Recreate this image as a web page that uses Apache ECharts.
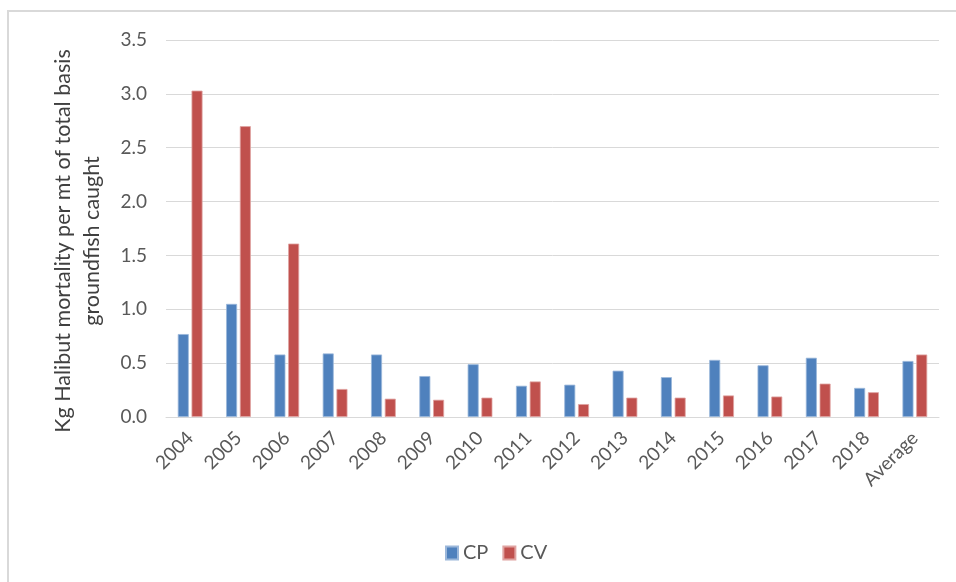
<!DOCTYPE html>
<html>
<head>
<meta charset="utf-8">
<script src="https://cdn.jsdelivr.net/npm/echarts@6/dist/echarts.min.js"></script>
<style>
  html, body { margin: 0; padding: 0; background: #fff; }
  #chart { width: 956px; height: 582px; }
</style>
</head>
<body>
<div id="chart"></div>
<script>
const categories = ['2004', '2005', '2006', '2007', '2008', '2009', '2010', '2011',
  '2012', '2013', '2014', '2015', '2016', '2017', '2018', 'Average']
const cpValues = [0.77, 1.05, 0.58, 0.59, 0.58, 0.38, 0.49, 0.29,
  0.30, 0.43, 0.37, 0.53, 0.48, 0.55, 0.27, 0.52]
const cvValues = [3.03, 2.70, 1.61, 0.26, 0.17, 0.16, 0.18, 0.33,
  0.12, 0.18, 0.18, 0.20, 0.19, 0.31, 0.23, 0.58]
const yTitle = ['Kg Halibut mortality per mt of total basis', 'groundfish caught']

const font = 'Lato, "Open Sans", sans-serif'
const textColor = '#595959'

const chart = echarts.init(document.getElementById('chart'))

const option = {
  backgroundColor: '#fff',
  animation: false,
  textStyle: { fontFamily: font },
  grid: { left: 166, right: 17, top: 40, bottom: 165 },
  legend: {
    data: ['CP', 'CV'],
    left: 440,
    top: 538,
    itemWidth: 12,
    itemHeight: 13,
    itemGap: 14,
    icon: 'rect',
    textStyle: { color: textColor, fontSize: 20, fontFamily: font },
  },
  xAxis: {
    type: 'category',
    data: categories,
    axisLine: { lineStyle: { color: '#d9d9d9', width: 1 } },
    axisTick: { show: false },
    axisLabel: {
      rotate: 45,
      interval: 0,
      margin: 18,
      color: textColor,
      fontSize: 19,
      fontFamily: font,
    },
  },
  yAxis: {
    type: 'value',
    min: 0,
    max: 3.5,
    interval: 0.5,
    axisLine: { show: false },
    axisTick: { show: false },
    axisLabel: {
      margin: 19,
      color: textColor,
      fontSize: 19,
      fontFamily: font,
      formatter: (v) => v.toFixed(1),
    },
    splitLine: { lineStyle: { color: '#d9d9d9', width: 1 } },
  },
  series: [
    {
      name: 'CP',
      type: 'bar',
      data: cpValues,
      barWidth: 11,
      barGap: '25%',
      itemStyle: { color: '#4f81bd', borderColor: '#9bb7da', borderWidth: 0.8 },
    },
    {
      name: 'CV',
      type: 'bar',
      data: cvValues,
      barWidth: 11,
      barGap: '25%',
      itemStyle: { color: '#c0504d', borderColor: '#e0a3a1', borderWidth: 0.8 },
    },
  ],
  graphic: [
    {
      type: 'rect',
      shape: { x: 8, y: 11, width: 1000, height: 700 },
      style: { fill: 'none', stroke: '#d9d9d9', lineWidth: 2 },
      silent: true,
      z: -1,
    },
    {
      type: 'text',
      x: 63,
      y: 241,
      rotation: Math.PI / 2,
      style: {
        text: yTitle[0],
        fill: '#404040',
        font: '21.5px ' + font,
        textAlign: 'center',
        textVerticalAlign: 'middle',
      },
    },
    {
      type: 'text',
      x: 92,
      y: 241,
      rotation: Math.PI / 2,
      style: {
        text: yTitle[1],
        fill: '#404040',
        font: '21.5px ' + font,
        textAlign: 'center',
        textVerticalAlign: 'middle',
      },
    },
  ],
}

chart.setOption(option)
</script>
</body>
</html>
